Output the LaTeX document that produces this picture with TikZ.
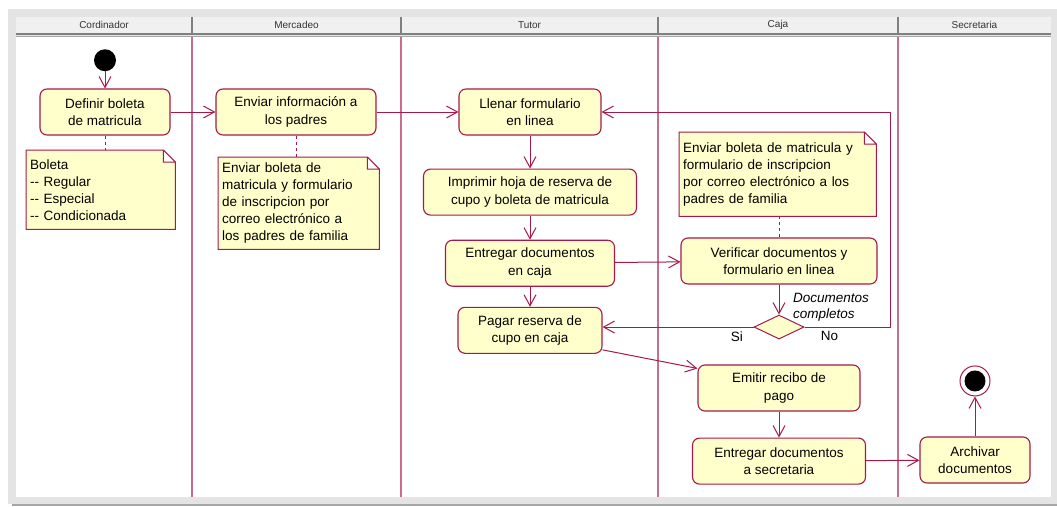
\documentclass[tikz,border=0pt]{standalone}
\usepackage{fontspec}
\setmainfont{Liberation Sans}
\usetikzlibrary{arrows.meta,shapes.geometric,positioning,backgrounds}
\definecolor{umlred}{RGB}{165,25,75}
\definecolor{lanered}{RGB}{200,110,140}
\definecolor{umlfill}{RGB}{255,255,204}
\definecolor{headgray}{RGB}{240,240,240}
\definecolor{framegray}{RGB}{228,228,228}
\tikzset{
    flow/.style={-{Straight Barb[length=11pt, width=12pt]}, line width=1pt, umlred},
    act/.style={draw=umlred, fill=umlfill, rounded corners=7pt, line width=1.1pt, minimum height=46pt, align=center, font=\fontsize{13.5}{17.5}\selectfont},
    nota/.style={anchor=north west, align=left, inner sep=4pt, font=\fontsize{13.5}{17}\selectfont},
    notebg/.style={draw=umlred, fill=umlfill, line width=1pt},
    link/.style={umlred, dash pattern=on 3pt off 3pt, line width=1pt},
    start/.style={circle, fill=black, minimum size=22pt, inner sep=0pt},
    fin/.style={circle, draw=umlred, fill=white, minimum size=30pt, inner sep=0pt, line width=1pt,
        path picture={\fill[black] (path picture bounding box.center) circle (10.5pt);}},
    decision/.style={diamond, draw=umlred, fill=umlfill, line width=1pt, minimum width=50pt, minimum height=24pt, inner sep=0pt},
    lanehd/.style={font=\fontsize{10}{12}\selectfont, text=black!80},
    lane/.style={lanered, line width=1.3pt},
    lbl/.style={font=\fontsize{13.5}{16}\selectfont, inner sep=1pt, text=black}
}
\begin{document}
\begin{tikzpicture}[x=1pt, y=-1pt]
\useasboundingbox (0,0) rectangle (1057,506);
\begin{scope}[on background layer]
    \fill[framegray] (8,9) rectangle (1057,504);
    \draw[gray!70, line width=1.2pt] (12,505) -- (1057,505);
    \fill[white] (16,37) rectangle (1051,497);
    \fill[headgray] (16,17) rectangle (1051,33);
    \draw[gray, line width=1.5pt] (16,34) -- (1051,34);
    \draw[gray!70, line width=1pt] (16,36.5) -- (1051,36.5);
    \foreach \x in {192,401,658,898} {
        \draw[gray, line width=1.2pt] (\x,17) -- (\x,33);
        \draw[lane] (\x,37) -- (\x,497);
    }
\end{scope}
\foreach \x/\t [count=\i] in {104/Cordinador,296.5/Mercadeo,529.5/Tutor,778/Caja,974.5/Secretaria}
    \node[lanehd] (hd\i) at (\x,25) {\t};

\node[act, minimum width=130pt] (defbol) at (105,112) {Definir boleta\\de matricula};
\node[start, above=17pt of defbol] (ini) {};
\node[act, minimum width=160pt] (envinfo) at (296,112) {Enviar información a\\los padres};
\node[act, minimum width=142pt] (llenar) at (530,112) {Llenar formulario\\en linea};
\node[act, minimum width=213pt, below=33pt of llenar] (imprimir) {Imprimir hoja de reserva de\\cupo y boleta de matricula};
\node[act, minimum width=169pt, below=24pt of imprimir] (entcaja) {Entregar documentos\\en caja};
\node[act, minimum width=144pt, below=20pt of entcaja] (pagar) {Pagar reserva de\\cupo en caja};
\node[act, minimum width=196pt] (verif) at (779,261) {Verificar documentos y\\formulario en linea};
\node[decision, below=30pt of verif] (dec) {};
\node[act, minimum width=162pt] (emitir) at (779,388) {Emitir recibo de\\pago};
\node[act, minimum width=173pt, below=26pt of emitir] (entsec) {Entregar documentos\\a secretaria};
\node[act, minimum width=110pt] (archivar) at (975,460) {Archivar\\documentos};
\node[fin, above=40pt of archivar] (final) {};

\node[nota, text width=141pt, minimum height=79pt] (nota1) at (26,150) {Boleta\\-{}- Regular\\-{}- Especial\\-{}- Condicionada};
\node[nota, text width=153pt, minimum height=92pt] (nota2) at (218,157) {Enviar boleta de\\matricula y formulario\\de inscripcion por\\correo electrónico a\\los padres de familia};
\node[nota, text width=189pt, minimum height=84pt] (nota3) at (679,132) {Enviar boleta de matricula y\\formulario de inscripcion\\por correo electrónico a los\\padres de familia};
\node[lbl, font=\fontsize{13.5}{16}\selectfont\itshape, align=left, anchor=west] (guarda) at (792,307) {Documentos\\completos};

\begin{scope}[on background layer]
    \foreach \n in {nota1,nota2,nota3}
        \draw[notebg] (\n.north west) -- ([xshift=-12pt]\n.north east) -- ([yshift=-12pt]\n.north east)
            -- (\n.south east) -- (\n.south west) -- cycle
            ([xshift=-12pt]\n.north east) |- ([yshift=-12pt]\n.north east);
\end{scope}

\draw[link] (defbol) -- (defbol |- nota1.north);
\draw[link] (envinfo) -- (envinfo |- nota2.north);
\draw[link] (verif) -- (verif |- nota3.south);

\draw[flow] (ini) -- (defbol);
\draw[flow] (defbol) -- (envinfo);
\draw[flow] (envinfo) -- (llenar);
\draw[flow] (llenar) -- (imprimir);
\draw[flow] (imprimir) -- (entcaja);
\draw[flow] (entcaja) -- (verif);
\draw[flow] (entcaja) -- (pagar);
\draw[flow] (verif) -- (dec);
\draw[flow] (dec.west) -- node[lbl, pos=0.11, below=3pt] (si) {Si} (dec.west -| pagar.east);
\draw[flow] (dec.east) -- node[lbl, pos=0.29, below=3pt] (no) {No} ++(86,0) |- (llenar.east);
\draw[flow] ([yshift=4pt]pagar.south east) -- ([yshift=-4pt]emitir.north west);
\draw[flow] (emitir) -- (entsec);
\draw[flow] (entsec) -- (archivar);
\draw[flow] (archivar) -- (final);
\end{tikzpicture}
\end{document}
